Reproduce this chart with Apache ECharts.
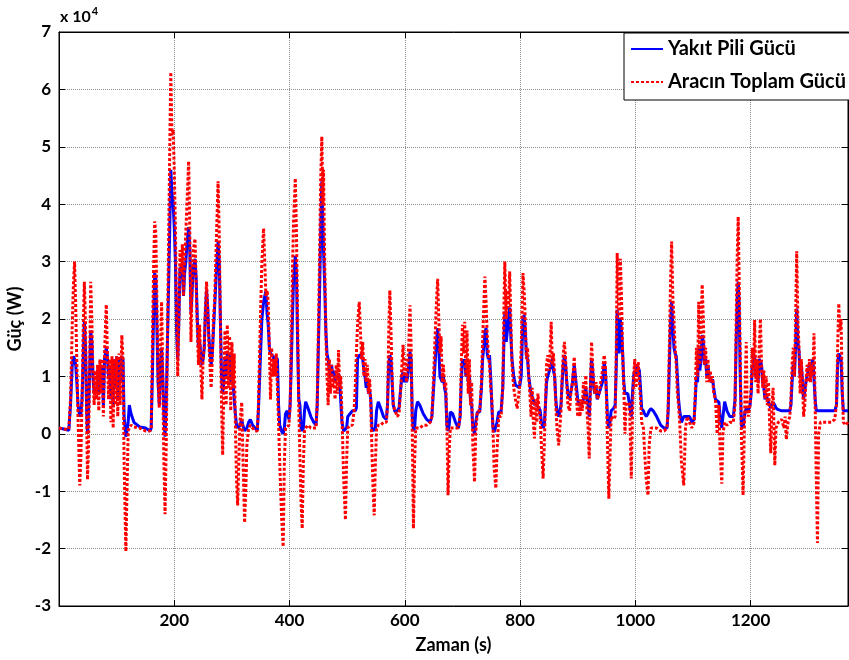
<!DOCTYPE html>
<html>
<head>
<meta charset="utf-8">
<script src="https://cdn.jsdelivr.net/npm/echarts@6/dist/echarts.min.js"></script>
<style>
  html, body { margin: 0; padding: 0; background: #fff; }
  #chart { width: 849px; height: 660px; }
</style>
</head>
<body>
<div id="chart"></div>
<script>
// Drive-cycle power profile: time (s) and power (W)
const timeSec = [
  0,10,17,20,23,25,27,29,31,33,
  36,38,40,42,44,46,48,49.5,51,53,
  55,57,59,61,63,65,67,69,71,73,
  75,77,79,82,84,86,88,90,92,94,
  96,98,100,102,104,106,109,111,113,116,
  118,120,122,125,130,140,150,158,160,162,
  164,166,168,170,172,174,176,178,180,182,
  184,186,188,190,192,194,196,198,200,202,
  204,206,208,210,212,214,216,218,220,222,
  225,227,229,231,233,236,238,240,242,244,
  246,248,250,252,254,256,258,260,262,264,
  266,268,270,272,274,276,278,280,282,284,
  286,288,290,292,294,296,298,300,302,304,
  306,308,310,312,314,317,319,322,324,326,
  329,332,336,340,344,346,349,352,355,357,
  359,361,363,365,367,369,371,373,375,377,
  379,381,383,386,389,391,393,396,399,401,
  403,405,407,410,412,414,416,418,420,422,
  424,426,428,432,437,442,446,448,450,452,
  454,456,458,459,461,463,465,467,469,471,
  473,475,477,479,481,483,485,487,489,491,
  494,497,499,501,505,509,512,514,516,518,
  521,523,525,527,529,531,533,535,537,539,
  541,543,545,547,549,551,554,558,563,568,
  570,572,574,576,578,580,583,587,590,593,
  595,597,599,601,603,605,607,609,611,613,
  615,617,619,622,626,632,638,644,647,650,
  653,655,657,659,661,663,665,667,669,671,
  673,675,677,679,683,688,693,696,698,700,
  702,704,706,708,710,712,714,716,718,721,
  723,726,730,733,735,737,739,741,743,745,
  747,749,751,753,755,758,760,763,767,770,
  772,773.5,776,778,780,782,784,786,789,792,
  795,799,802,805,807,809,811,813,815,817,
  819,821,823,825,827,829,831,833,835,837,
  840,842,844,846,848,851,854,856,858,860,
  862,864,867,869,871,873,875,877,879,881,
  883,886,888,891,894,896,898,900,902,904,
  906,908,910,912,914,916,918,920,922,924,
  926,928,930,932,934,937,940,943,946,948,
  950,952,954,956,958,962,965,967,968.5,970,
  972,974,976,978,980,982,984,987,990,993,
  995,997,999,1001,1003,1005,1007,1009,1011,1014,
  1016,1019,1022,1024,1027,1031,1037,1044,1050,1055,
  1057,1059,1061,1063,1065,1067,1069,1071,1073,1075,
  1077,1080,1084,1087,1090,1094,1098,1102,1104,1106,
  1108,1110,1112,1114,1116,1118,1120,1122,1124,1126,
  1128,1130,1132,1134,1136,1139,1142,1145,1147,1150,
  1152,1155,1159,1164,1170,1173,1175,1177,1178.5,1180,
  1182,1184,1187,1189,1191,1192.5,1194,1196,1199,1201,
  1203,1205,1207,1209,1211,1213,1215,1217,1219,1221,
  1223,1225,1227,1229,1231,1233,1235,1237,1239,1242,
  1244,1248,1254,1258,1260,1262,1265,1268,1270,1272,
  1274,1276,1278,1280,1282,1284,1286,1288,1290,1292,
  1294,1296,1298,1300,1302,1304,1306,1308,1310,1312,
  1314,1316,1318,1321,1330,1340,1346,1349,1351,1353,
  1355,1357,1359,1361,1365,1369
];

// Fuel cell output power (W)
const fuelCellPower = [
  1000,800,600,5000,12000,13500,13000,12000,9000,5000,
  3000,3500,6000,13000,19500,15000,4000,0,3000,10000,
  18000,16000,10000,7000,8000,7000,9000,7000,11000,9000,
  12000,5000,13000,15000,13500,10000,12000,6000,12000,5000,
  13000,8000,13500,6000,13000,9000,13500,13000,3000,-500,
  500,2000,5000,3500,2000,1200,1000,500,1000,10000,
  20000,28000,27000,18000,9000,5000,12000,15000,10000,3000,
  -500,5000,15000,25000,35000,46000,42000,40000,36000,30000,
  18000,13000,20000,29000,27000,30000,24000,28000,30000,33000,
  36000,32000,21000,25000,29000,30500,27000,20000,15000,16000,
  14000,12000,13000,15000,21000,25000,22000,17000,14000,12000,
  14000,18000,22000,26000,30000,33500,30000,20000,10000,7000,
  9000,13000,10000,14000,12000,14000,9000,13000,9000,6000,
  3500,1500,1000,1000,1500,2500,1500,500,500,1000,
  2000,2500,1500,1000,500,4000,12000,20000,23000,24000,
  24800,21000,19000,15000,14000,14000,13500,13000,13500,13500,
  13000,5000,1500,500,0,1000,3500,4000,2500,5000,
  12000,20000,27000,31000,28000,16000,6000,5000,1000,500,
  1000,4000,5600,4500,3000,2000,1500,5000,15000,24000,
  35000,44000,36000,32000,26000,18000,14000,13000,11000,10000,
  12000,10000,11000,9000,10000,9500,10500,9000,9000,2000,
  500,500,1000,3000,3500,4000,3800,4000,4500,13000,
  13700,13700,13700,13000,11000,10000,8000,9500,7000,7500,
  6000,1000,500,500,1000,4000,5600,4500,3000,2500,
  5000,12000,13700,13000,9000,5000,3800,4000,4500,8000,
  10000,10800,9000,10000,9000,10000,12000,14300,13000,3000,
  500,1000,4000,5600,5000,3500,2500,2000,3000,8000,
  13000,16000,18400,15000,10000,10000,9000,10000,8000,7000,
  1500,500,1500,3800,3500,2000,1000,3000,9000,13000,
  12000,13000,10000,12000,9000,10000,6000,5000,1000,0,
  2000,3800,3800,8000,13000,15000,17500,18400,14000,13000,
  13700,10000,5000,1000,300,0,2000,3800,3800,8000,
  16000,21300,16000,18000,20000,22000,17000,13000,10000,8500,
  8500,8000,10000,20000,20700,18000,13700,13000,10000,8500,
  7000,6500,6000,5000,5500,5000,5000,4500,4000,2000,
  1000,1500,5000,9000,10000,10000,12000,13000,11000,10000,
  6000,4000,3000,3000,5000,9000,12000,13700,12000,9000,
  7000,6000,6000,9000,12000,10000,8000,6000,5000,5000,
  5000,5000,6000,6000,8000,6000,5000,3000,8000,13000,
  11000,8000,7000,8000,6000,7000,8000,9000,12500,11000,
  7000,2000,1000,2000,4000,4400,5000,12000,21600,18000,
  14000,20000,18000,14000,9000,7000,6700,7000,7000,3000,
  7000,10000,11000,10000,12000,12300,11000,8000,4400,4000,
  3500,3000,3500,4000,4400,4000,3000,1500,1000,1000,
  4000,12000,19000,23000,19000,15000,14000,13500,10000,6000,
  4000,2000,3000,3000,3000,3000,2000,2500,6000,10000,
  9000,15000,11000,13000,17200,16000,12000,13000,10000,12000,
  10000,10000,9000,9500,8000,6000,6000,5500,3000,1000,
  3000,5600,4000,3000,3000,6000,16000,24000,26500,23000,
  10000,1500,1000,3000,4000,4400,4400,4000,5000,7000,
  12000,11000,13700,10000,12000,9000,13000,13000,12000,9000,
  8000,6000,7000,6000,6000,5000,4500,5000,5500,5000,
  4500,4200,4000,4000,4000,4000,4000,4000,5000,9000,
  12000,10000,15000,21800,16000,14400,10000,12000,9000,6000,
  6000,9000,10000,11000,12000,11000,12000,13000,13000,6000,
  4000,4000,4000,4000,4000,4000,4000,5000,12000,14000,
  13500,13000,7000,4000,4000,4000
];

// Total vehicle power demand (W)
const vehiclePower = [
  1000,800,800,6000,19000,26000,30000,22000,12000,3000,
  -9000,-4000,6000,18000,26500,19000,2000,-8000,-3000,10000,
  26500,20000,10000,5000,11000,6000,12000,4000,13000,7000,
  13000,3000,14000,22500,14000,6000,13000,2000,13500,1000,
  13000,5000,13500,3000,14000,5000,17200,13000,-5000,-20500,
  -10000,500,1000,1500,1200,1000,500,500,1000,15000,
  28000,37000,35000,22000,9000,4500,15000,23000,10000,-5000,
  -14000,-2000,15000,32000,48000,63000,52000,53000,46000,36000,
  20000,10000,20000,32000,28000,33000,24000,30000,35000,40000,
  47500,35000,16000,26000,32000,34000,26000,18000,12000,19000,
  12000,6000,13000,15000,22000,26500,22000,16000,12000,8000,
  13000,20000,23000,30000,37000,44000,35000,20000,5000,-3700,
  9000,18000,5000,19000,8000,17000,4000,16000,8000,14000,
  2000,-8000,-12500,-5000,2000,5500,-3000,-15500,-10000,-2000,
  1000,1500,1000,500,500,5000,18000,30000,35800,30000,
  24000,25000,23000,15000,6000,15000,10000,13000,10000,14000,
  8000,2000,-5000,-14000,-19700,-5000,1000,1000,1500,5000,
  15000,28000,37000,44500,35000,20000,5000,-4000,-12000,-16500,
  -5000,500,1000,1500,1000,1000,1000,5000,18000,30000,
  44000,51800,40000,46000,30000,18000,10000,5000,13000,7000,
  12000,8000,10000,6000,12000,7000,14600,8000,10000,3000,
  -8000,-15000,-5000,1000,1500,1500,4000,8000,14000,19000,
  23000,18000,13000,16000,10000,13000,9000,12000,7000,9500,
  5000,-3000,-10000,-14200,-5000,1000,1500,1500,2000,2000,
  5000,17000,25000,18000,10000,5000,4000,3000,3500,8000,
  12000,15500,10000,13000,9000,12000,16000,22400,15000,0,
  -16500,-5000,1000,1000,1000,1500,1500,2000,3000,10000,
  18000,23000,27000,20000,14000,17000,9000,12000,8000,9000,
  2000,-10700,-3000,1000,1000,1000,1000,3000,12000,19000,
  14000,19500,10000,18000,7000,13000,5000,9000,-2000,-8400,
  0,4000,4000,9000,16000,22000,27400,23000,17000,14000,
  12000,8000,6000,1000,-6000,-9500,-3000,3000,3000,8000,
  22000,30000,20000,25000,22000,28300,20000,12000,8000,6000,
  4400,8000,15000,28000,25000,20000,13000,15000,10000,7000,
  3000,8000,2000,-800,6000,2000,7000,4000,3000,-2000,
  -7800,-2000,5000,12000,13700,11000,19500,12000,14000,10000,
  5000,1000,-2000,-2000,4000,10000,14000,16000,13000,9000,
  5000,4000,7000,9000,13400,9000,6000,3000,6000,3000,
  6000,4000,9000,5000,10200,4000,1000,-4300,8000,16000,
  12000,8000,7000,9000,6000,7000,9000,11000,13700,12000,
  6000,-3000,-11300,-4000,3000,2500,3000,15000,31500,25000,
  20000,30500,24000,14000,8000,0,5000,5500,5000,-7800,
  3000,10000,13000,8000,10000,12500,9000,6000,2000,1000,
  -3000,-8000,-10700,-2000,1000,1000,1000,500,500,1000,
  5000,15000,26000,33500,24000,20000,15000,12000,7000,5000,
  2000,-5000,-9000,1000,3000,2000,1000,2000,7000,15000,
  10000,23000,12000,18000,26000,20000,12000,15000,9000,13000,
  9000,11000,9000,10000,7000,6000,0,5000,-3000,-8700,
  0,2000,1500,2000,2000,5000,20000,32000,37800,28000,
  14000,0,-10700,0,10000,16000,5000,3000,5000,8000,
  15000,10000,19800,9000,13000,7000,15000,20000,12000,8000,
  11000,6000,10000,5000,9000,2000,-3400,5000,8000,-5500,
  1000,2000,2500,1000,3000,-1000,2000,3000,6000,12000,
  15000,10000,19000,31800,20000,15000,7000,13000,9000,3000,
  5000,9000,12000,9000,13000,9000,12000,10000,17500,5000,
  -8000,-19000,0,2000,2000,2000,2500,5000,15000,22700,
  18000,20000,8000,2000,1500,2000
];

const seriesNames = ['Yakıt Pili Gücü', 'Aracın Toplam Gücü'];
const xTickStep = 200;
const yTickStep = 10000;
const yScale = 10000;

const font = 'Lato, "Open Sans", "DejaVu Sans", sans-serif';

const pairs = (vals) => timeSec.map((t, i) => [t, vals[i]]);

const chart = echarts.init(document.getElementById('chart'), null, { renderer: 'canvas' });

const axisBase = {
  type: 'value',
  axisLine: { show: true, onZero: false, lineStyle: { color: '#000', width: 1 } },
  axisTick: { show: true, inside: true, length: 6, lineStyle: { color: '#000', width: 1 } }
};

chart.setOption({
  animation: false,
  backgroundColor: '#fff',
  grid: {
    left: 59, right: 1, top: 32, bottom: 54,
    show: true, borderColor: '#000', borderWidth: 1,
    containLabel: false, outerBoundsMode: 'none'
  },
  legend: {
    data: seriesNames,
    orient: 'vertical',
    left: 624, top: 33,
    padding: [6, 6, 8, 6],
    itemWidth: 32, itemHeight: 14, itemGap: 13,
    backgroundColor: '#fff',
    borderColor: '#000', borderWidth: 1,
    itemStyle: { opacity: 0 },
    textStyle: { color: '#000', fontFamily: font, fontWeight: 'bold', fontSize: 20 }
  },
  graphic: [{
    type: 'text', left: 60, top: 6,
    style: {
      text: '{a|x 10}{b|4}',
      rich: {
        a: { fontFamily: font, fontWeight: 'bold', fontSize: 16, fill: '#000', verticalAlign: 'bottom' },
        b: { fontFamily: font, fontWeight: 'bold', fontSize: 11, fill: '#000', verticalAlign: 'top', padding: [0, 0, 8, 1] }
      }
    }
  }],
  xAxis: [
    Object.assign({}, axisBase, {
      position: 'bottom', min: 0, max: 1369, interval: xTickStep,
      axisLabel: {
        color: '#000', fontFamily: font, fontWeight: 'bold', fontSize: 17, margin: 6,
        formatter: v => (v > 0 && v % xTickStep === 0) ? String(v) : ''
      },
      splitLine: { show: true, lineStyle: { color: '#8c8c8c', type: 'dotted', width: 1 } },
      name: 'Zaman (s)', nameLocation: 'middle', nameGap: 30,
      nameTextStyle: { color: '#000', fontFamily: font, fontWeight: 'bold', fontSize: 18 }
    }),
    Object.assign({}, axisBase, {
      position: 'top', min: 0, max: 1369, interval: xTickStep,
      axisLabel: { show: false }, splitLine: { show: false }
    })
  ],
  yAxis: [
    Object.assign({}, axisBase, {
      position: 'left', min: -3 * yScale, max: 7 * yScale, interval: yTickStep,
      axisLabel: {
        color: '#000', fontFamily: font, fontWeight: 'bold', fontSize: 17, margin: 8,
        formatter: v => String(Math.round(v / yScale))
      },
      splitLine: { show: true, lineStyle: { color: '#8c8c8c', type: 'dotted', width: 1 } },
      name: 'Güç (W)', nameLocation: 'middle', nameGap: 32,
      nameTextStyle: { color: '#000', fontFamily: font, fontWeight: 'bold', fontSize: 18 }
    }),
    Object.assign({}, axisBase, {
      position: 'right', min: -3 * yScale, max: 7 * yScale, interval: yTickStep,
      axisLabel: { show: false }, splitLine: { show: false }
    })
  ],
  series: [
    {
      name: seriesNames[0], type: 'line', xAxisIndex: 0, yAxisIndex: 0,
      data: pairs(fuelCellPower),
      symbol: 'none', showSymbol: false,
      itemStyle: { color: '#0000ff' },
      lineStyle: { color: '#0000ff', width: 3, type: 'solid' },
      z: 2
    },
    {
      name: seriesNames[1], type: 'line', xAxisIndex: 0, yAxisIndex: 0,
      data: pairs(vehiclePower),
      symbol: 'none', showSymbol: false,
      itemStyle: { color: '#ff0000' },
      lineStyle: { color: '#ff0000', width: 3, type: [3, 2], cap: 'butt' },
      z: 3
    }
  ]
});
</script>
</body>
</html>
